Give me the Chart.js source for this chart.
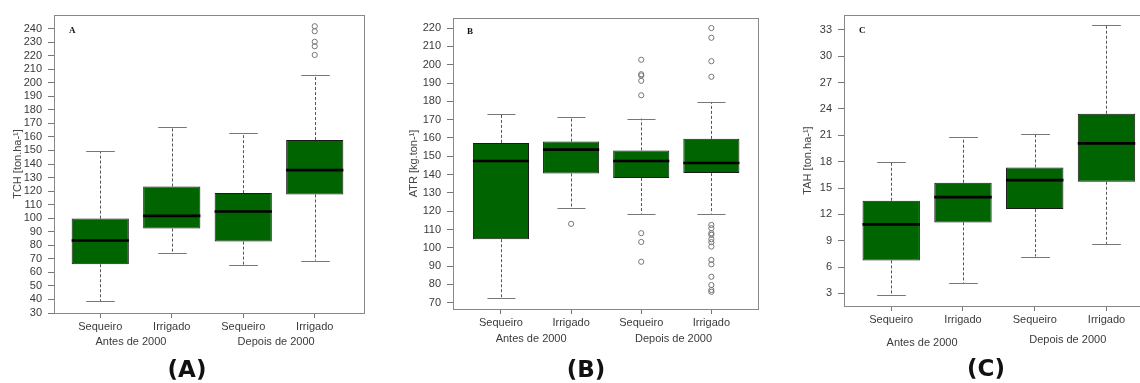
<!DOCTYPE html>
<html><head><meta charset="utf-8">
<script src="https://cdn.jsdelivr.net/npm/chart.js@4.4.1/dist/chart.umd.min.js"></script>
<style>
html,body{margin:0;padding:0;background:#fff;width:1140px;height:383px;overflow:hidden;position:relative}
canvas{position:absolute;top:0}
.lbl{position:absolute;width:120px;text-align:center;font:bold 23px 'DejaVu Sans',sans-serif;color:#111;line-height:24px}
</style></head><body>
<canvas id="cA" width="380" height="383" style="left:0px"></canvas>
<canvas id="cB" width="380" height="383" style="left:396px"></canvas>
<canvas id="cC" width="400" height="383" style="left:790px"></canvas>
<div class="lbl" style="left:127px;top:357px">(A)</div>
<div class="lbl" style="left:526px;top:357px">(B)</div>
<div class="lbl" style="left:926px;top:356px">(C)</div>
<script>
// ---- data ----
const categories = ['Sequeiro', 'Irrigado', 'Sequeiro', 'Irrigado'];
const groupLabels = ['Antes de 2000', 'Depois de 2000'];
const groupCenters = [1.43, 3.46];

// Panel A: TCH
const tchMin = [38.9, 74.4, 65.3, 68.7];
const tchQ1  = [66.0, 92.3, 82.7, 117.5];
const tchMed = [83.5, 101.7, 104.9, 135.5];
const tchQ3  = [99.7, 123.4, 118.5, 157.7];
const tchMax = [149.6, 167.3, 162.6, 205.8];
const tchOut = [[], [], [], [241.7, 238.0, 230.2, 226.9, 220.5]];
const tchTicks = [30,40,50,60,70,80,90,100,110,120,130,140,150,160,170,180,190,200,210,220,230,240];

// Panel B: ATR
const atrMin = [72.6, 121.8, 118.7, 118.7];
const atrQ1  = [104.7, 140.6, 138.1, 140.8];
const atrMed = [147.4, 153.6, 147.4, 146.3];
const atrQ3  = [157.3, 158.0, 153.2, 159.5];
const atrMax = [173.1, 171.5, 170.6, 179.7];
const atrOut = [[], [113.1],
  [202.7, 194.8, 194.1, 191.2, 183.3, 108.0, 103.2, 92.4],
  [220.0, 214.7, 201.9, 193.4, 112.5, 110.7, 108.0, 107.1, 104.7, 103.1, 100.7, 93.4, 91.0, 84.2, 79.7, 77.0, 76.0]];
const atrTicks = [70,80,90,100,110,120,130,140,150,160,170,180,190,200,210,220];

// Panel C: TAH
const tahMin = [2.84, 4.17, 7.2, 8.65];
const tahQ1  = [6.76, 11.09, 12.6, 15.71];
const tahMed = [10.86, 13.97, 15.9, 20.09];
const tahQ3  = [13.55, 15.6, 17.35, 23.46];
const tahMax = [18.0, 20.8, 21.15, 33.56];
const tahOut = [[], [], [], []];
const tahTicks = [3,6,9,12,15,18,21,24,27,30,33];

// ---- drawing ----
Chart.defaults.font.family = "'Liberation Sans', Arial, sans-serif";
Chart.defaults.font.size = 11;
Chart.defaults.color = '#3a3a3a';

const panels = {};

const boxPlugin = {
  id: 'boxExtras',
  beforeDatasetsDraw(chart) {
    const p = panels[chart.canvas.id];
    const {ctx, scales: {x, y}} = chart;
    const bars = chart.getDatasetMeta(0).data;
    ctx.save();
    ctx.lineWidth = 1;
    for (let i = 0; i < categories.length; i++) {
      const cx = Math.round(x.getPixelForValue(i + 1)) + 0.5;
      const w = bars[i].width;
      ctx.setLineDash([3, 2]);
      ctx.strokeStyle = '#555';
      ctx.beginPath();
      ctx.moveTo(cx, y.getPixelForValue(p.q3[i])); ctx.lineTo(cx, y.getPixelForValue(p.max[i]));
      ctx.moveTo(cx, y.getPixelForValue(p.q1[i])); ctx.lineTo(cx, y.getPixelForValue(p.min[i]));
      ctx.stroke();
      ctx.setLineDash([]);
      ctx.strokeStyle = '#777';
      ctx.beginPath();
      for (const v of [p.max[i], p.min[i]]) {
        const yy = Math.round(y.getPixelForValue(v)) + 0.5;
        ctx.moveTo(cx - w / 4, yy); ctx.lineTo(cx + w / 4, yy);
      }
      ctx.stroke();
    }
    ctx.restore();
  },
  afterDatasetsDraw(chart) {
    const p = panels[chart.canvas.id];
    const {ctx, scales: {y}} = chart;
    const bars = chart.getDatasetMeta(0).data;
    ctx.save();
    ctx.strokeStyle = '#000';
    ctx.lineWidth = 2.6;
    for (let i = 0; i < categories.length; i++) {
      const b = bars[i];
      const yy = y.getPixelForValue(p.med[i]);
      ctx.beginPath();
      ctx.moveTo(b.x - b.width / 2, yy); ctx.lineTo(b.x + b.width / 2, yy);
      ctx.stroke();
    }
    ctx.restore();
  },
  afterDraw(chart) {
    const p = panels[chart.canvas.id];
    const {ctx, chartArea: a, scales: {x}} = chart;
    ctx.save();
    ctx.strokeStyle = '#888';
    ctx.lineWidth = 1;
    ctx.strokeRect(Math.round(a.left) + 0.5, Math.round(a.top) + 0.5, Math.round(a.right - a.left), Math.round(a.bottom - a.top));
    ctx.fillStyle = '#3a3a3a';
    ctx.font = "11px 'Liberation Sans', Arial, sans-serif";
    ctx.textAlign = 'center';
    ctx.textBaseline = 'alphabetic';
    groupLabels.forEach((t, k) => {
      ctx.fillText(t, x.getPixelForValue(groupCenters[k]), a.bottom + p.groupDy[k]);
    });
    ctx.fillStyle = '#111';
    ctx.font = "bold 9px 'Liberation Serif', serif";
    ctx.textAlign = 'left';
    ctx.textBaseline = 'middle';
    ctx.fillText(p.letter, a.left + p.letterDx, a.top + p.letterDy);
    ctx.restore();
  }
};

function makePanel(id, p) {
  panels[id] = p;
  const outPts = [];
  p.out.forEach((arr, i) => arr.forEach(v => outPts.push({x: i + 1, y: v})));
  new Chart(document.getElementById(id), {
    type: 'bar',
    data: {
      datasets: [
        {
          type: 'bar',
          data: p.q1.map((v, i) => ({x: i + 1, y: [v, p.q3[i]]})),
          backgroundColor: '#006400',
          borderColor: '#1a1a1a',
          borderWidth: 1,
          borderSkipped: false,
          categoryPercentage: 1,
          barPercentage: 0.8
        },
        {
          type: 'scatter',
          data: outPts,
          pointStyle: 'circle',
          pointRadius: 2.6,
          pointBorderColor: '#777',
          pointBackgroundColor: 'rgba(0,0,0,0)',
          pointBorderWidth: 1,
          showLine: false
        }
      ]
    },
    options: {
      responsive: false,
      animation: false,
      devicePixelRatio: 1,
      layout: {padding: p.pad},
      plugins: {legend: {display: false}, tooltip: {enabled: false}},
      scales: {
        x: {
          type: 'linear', min: p.xMin, max: p.xMax, offset: false,
          grid: {display: true, offset: false, drawOnChartArea: false, drawTicks: true, tickLength: 5, tickColor: '#777'},
          border: {display: false},
          ticks: {padding: 2, maxRotation: 0, autoSkip: false, color: '#3a3a3a',
                  callback: (v, idx) => categories[idx]},
          afterBuildTicks: ax => { ax.ticks = categories.map((c, i) => ({value: i + 1})); },
          afterFit: ax => { ax.height = 40; }
        },
        y: {
          type: 'linear', min: p.yMin, max: p.yMax,
          grid: {display: true, drawOnChartArea: false, drawTicks: true, tickLength: 6, tickColor: '#777'},
          border: {display: false},
          ticks: {padding: 6, color: '#3a3a3a', autoSkip: false},
          afterBuildTicks: ax => { ax.ticks = p.ticks.map(v => ({value: v})); },
          afterFit: ax => { ax.width = p.yWidth; },
          title: {display: true, text: p.title, color: '#444', font: {size: 11}, padding: {top: 11, bottom: 0}}
        }
      }
    },
    plugins: [boxPlugin]
  });
}

makePanel('cA', {
  min: tchMin, q1: tchQ1, med: tchMed, q3: tchQ3, max: tchMax, out: tchOut, ticks: tchTicks,
  yMin: 30, yMax: 250, xMin: 0.353, xMax: 4.689, title: 'TCH [ton.ha-¹]', letter: 'A',
  pad: {left: 0, top: 15, right: 16, bottom: 30}, yWidth: 54, groupDy: [32, 32], letterDx: 15, letterDy: 16
});
makePanel('cB', {
  min: atrMin, q1: atrQ1, med: atrMed, q3: atrQ3, max: atrMax, out: atrOut, ticks: atrTicks,
  yMin: 66.6, yMax: 225.5, xMin: 0.316, xMax: 4.665, title: 'ATR [kg.ton-¹]', letter: 'B',
  pad: {left: 0, top: 18, right: 18, bottom: 34}, yWidth: 57, groupDy: [33, 33], letterDx: 14, letterDy: 14
});
makePanel('cC', {
  min: tahMin, q1: tahQ1, med: tahMed, q3: tahQ3, max: tahMax, out: tahOut, ticks: tahTicks,
  yMin: 1.57, yMax: 34.7, xMin: 0.342, xMax: 4.69, title: 'TAH [ton.ha-¹]', letter: 'C',
  pad: {left: 0, top: 15, right: 34, bottom: 37}, yWidth: 54, groupDy: [40, 37], letterDx: 15, letterDy: 16
});
</script>
</body></html>
